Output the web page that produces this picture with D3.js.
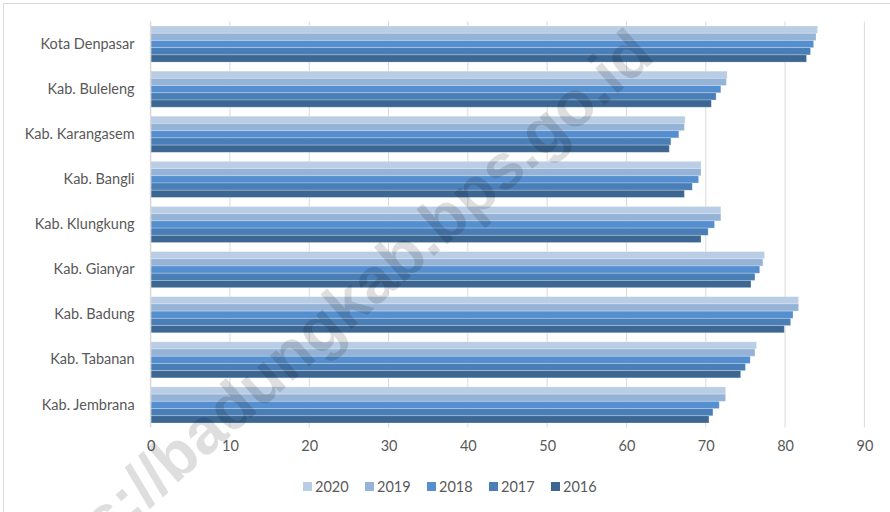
<!DOCTYPE html>
<html>
<head>
<meta charset="utf-8">
<script src="https://cdn.jsdelivr.net/npm/d3@7"></script>
<style>
  body { margin: 0; background: #fff; }
  svg { display: block; font-family: Lato, "Open Sans", sans-serif; }
</style>
</head>
<body>
<div id="chart"></div>
<script>
// chart size
const width = 890;
const height = 512;
const marginTop = 21.5;
const marginBottom = 84.5;
const marginLeft = 150.6;
const marginRight = 25.6;

// data
const regions = ["Kota Denpasar", "Kab. Buleleng", "Kab. Karangasem", "Kab. Bangli",
  "Kab. Klungkung", "Kab. Gianyar", "Kab. Badung", "Kab. Tabanan", "Kab. Jembrana"];
const years = ["2020", "2019", "2018", "2017", "2016"];
const v2020 = [84.1, 72.7, 67.4, 69.4, 71.9, 77.4, 81.7, 76.4, 72.5];
const v2019 = [83.9, 72.6, 67.3, 69.4, 71.9, 77.2, 81.7, 76.2, 72.5];
const v2018 = [83.6, 71.9, 66.6, 69.1, 71.1, 76.8, 81.0, 75.6, 71.7];
const v2017 = [83.2, 71.3, 65.6, 68.3, 70.3, 76.2, 80.7, 75.0, 70.9];
const v2016 = [82.7, 70.7, 65.4, 67.3, 69.4, 75.7, 79.9, 74.4, 70.4];
const xTicks = [0, 10, 20, 30, 40, 50, 60, 70, 80, 90];
const colors = ["#b9cde5", "#95b3d7", "#568fcf", "#4a7eb7", "#3c6793"];

const series = [v2020, v2019, v2018, v2017, v2016];

const svg = d3.select("#chart").append("svg")
  .attr("width", width)
  .attr("height", height);

// outer frame (only left and top edges are visible)
svg.append("rect")
  .attr("x", 3.5).attr("y", 3.5)
  .attr("width", width + 10).attr("height", height + 10)
  .attr("fill", "none")
  .attr("stroke", "#d9d9d9");

const x = d3.scaleLinear()
  .domain([0, 90])
  .range([marginLeft, width - marginRight]);

const y = d3.scaleBand()
  .domain(regions)
  .range([marginTop, height - marginBottom])
  .paddingInner(0.2)
  .paddingOuter(0.1);

const ySub = d3.scaleBand()
  .domain(years)
  .range([0, y.bandwidth()]);

// gridlines
svg.append("g")
  .selectAll("line")
  .data(xTicks.slice(1))
  .join("line")
    .attr("x1", d => x(d)).attr("x2", d => x(d))
    .attr("y1", marginTop).attr("y2", height - marginBottom)
    .attr("stroke", "#d9d9d9")
    .attr("stroke-width", 1);

// bars
const rows = regions.map((r, i) => ({ region: r, values: series.map(s => s[i]) }));

svg.append("g")
  .selectAll("g")
  .data(rows)
  .join("g")
    .attr("transform", d => `translate(0,${y(d.region)})`)
  .selectAll("rect")
  .data(d => d.values.map((v, j) => ({ year: years[j], value: v, color: colors[j] })))
  .join("rect")
    .attr("x", x(0))
    .attr("y", d => ySub(d.year))
    .attr("width", d => x(d.value) - x(0))
    .attr("height", ySub.bandwidth())
    .attr("fill", d => d.color)
    .attr("stroke", "rgba(255,255,255,0.3)")
    .attr("stroke-width", 0.8);

// y axis line
svg.append("line")
  .attr("x1", x(0)).attr("x2", x(0))
  .attr("y1", marginTop).attr("y2", height - marginBottom)
  .attr("stroke", "#d9d9d9")
  .attr("stroke-width", 1.5);

// x axis labels
const xAxis = svg.append("g")
  .attr("transform", `translate(0,${height - marginBottom})`)
  .call(d3.axisBottom(x).tickValues(xTicks).tickSize(0).tickPadding(13))
  .call(g => g.select(".domain").remove());
xAxis.selectAll("text")
  .attr("fill", "#595959")
  .attr("font-size", 14.5)
  .attr("font-family", "Lato, sans-serif");

// y axis labels
const yAxis = svg.append("g")
  .attr("transform", `translate(${marginLeft},0)`)
  .call(d3.axisLeft(y).tickSize(0).tickPadding(16))
  .call(g => g.select(".domain").remove());
yAxis.selectAll("text")
  .attr("fill", "#595959")
  .attr("font-size", 14.5)
  .attr("font-family", "Lato, sans-serif");

// legend
const legend = svg.append("g")
  .attr("transform", "translate(303,487)");
const item = legend.selectAll("g")
  .data(years)
  .join("g")
    .attr("transform", (d, i) => `translate(${i * 62},0)`);
item.append("rect")
  .attr("x", 0).attr("y", -5)
  .attr("width", 9).attr("height", 9)
  .attr("fill", (d, i) => colors[i]);
item.append("text")
  .attr("x", 12).attr("y", 0)
  .attr("dy", "0.36em")
  .attr("fill", "#595959")
  .attr("font-size", 14.5)
  .text(d => d);

// watermark
svg.append("text")
  .attr("transform", "translate(642,42) rotate(-41.5)")
  .attr("text-anchor", "end")
  .attr("dy", "0.35em")
  .attr("font-family", "Liberation Sans, Arial, sans-serif")
  .attr("font-weight", "bold")
  .attr("font-size", 64)
  .attr("fill", "#000")
  .attr("fill-opacity", 0.13)
  .text("https://badungkab.bps.go.id");
</script>
</body>
</html>
